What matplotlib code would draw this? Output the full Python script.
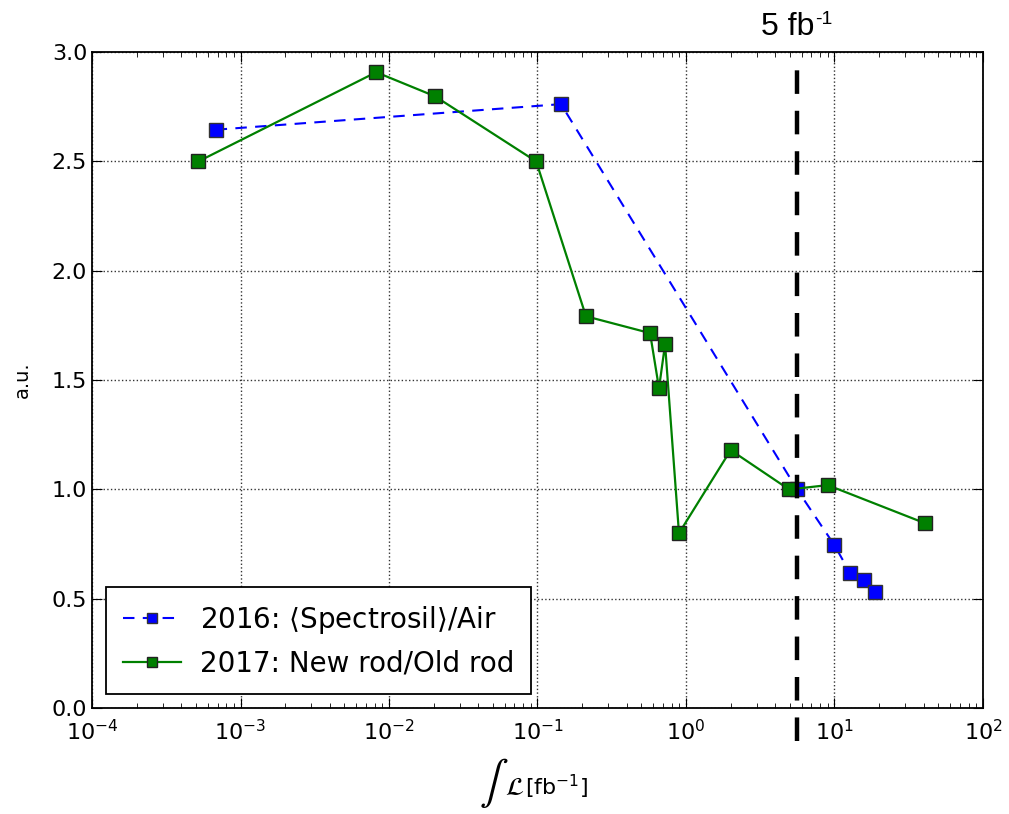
import matplotlib
matplotlib.use("Agg")
import matplotlib.pyplot as plt
from matplotlib.ticker import LogLocator, NullFormatter

# ---- data ----
lumi_2016 = [6.8e-4, 0.144, 5.6, 10.0, 12.7, 15.8, 18.8]
ratio_2016 = [2.645, 2.762, 1.00, 0.745, 0.620, 0.585, 0.530]

lumi_2017 = [5.2e-4, 8.2e-3, 0.0204, 0.098, 0.212, 0.573, 0.658, 0.723, 0.897, 2.0, 4.95, 9.0, 40.6]
ratio_2017 = [2.50, 2.908, 2.798, 2.50, 1.792, 1.715, 1.463, 1.664, 0.80, 1.18, 1.00, 1.02, 0.846]

mark_lumi = 5.6
yticks = [0.0, 0.5, 1.0, 1.5, 2.0, 2.5, 3.0]

plt.rcParams.update({
    "xtick.direction": "in", "ytick.direction": "in",
    "xtick.top": True, "ytick.right": True,
    "xtick.major.size": 7, "ytick.major.size": 7,
    "xtick.minor.size": 3.5, "ytick.minor.size": 3.5,
    "axes.linewidth": 1.3,
})

fig = plt.figure(figsize=(10.09, 8.14), dpi=100)
ax = fig.add_axes([0.0912, 0.130, 0.883, 0.806])

ax.plot(lumi_2016, ratio_2016, color="b", ls="--", lw=1.5, dashes=(5.5, 4),
        marker="s", ms=10, mec="#333333", mew=1.0, label=r"2016: $\langle$Spectrosil$\rangle$/Air")
ax.plot(lumi_2017, ratio_2017, color=(0, 0.5, 0), ls="-", lw=1.6,
        marker="s", ms=10, mec="#222222", mew=1.0, label="2017: New rod/Old rod")

ax.plot([mark_lumi, mark_lumi], [-0.15, 2.93], color="k", lw=3.2,
        dashes=(5.3, 3.8), clip_on=False, zorder=5)

ax.set_xscale("log")
ax.set_xlim(1e-4, 1e2)
ax.xaxis.set_minor_locator(LogLocator(base=10, subs=range(2, 10), numticks=20))
ax.xaxis.set_minor_formatter(NullFormatter())
ax.set_ylim(0, 3.0)
ax.set_yticks(yticks)
ax.set_yticklabels([f"{v:.1f}" for v in yticks])
ax.tick_params(labelsize=16)
ax.tick_params(axis="x", which="major", pad=8)
ax.grid(True, which="major", color="k", ls=":", lw=1.0, alpha=0.8)

ax.set_ylabel("a.u.", fontsize=14, labelpad=14)

# x label: big thin integral sign drawn apart from the rest
fig.text(0.4895, 0.0375, r"$\int$", fontsize=31, ha="center", va="center",
         math_fontfamily="stix")
fig.text(0.5005, 0.023, r"$\mathcal{L}$", fontsize=19, ha="left", va="baseline")
fig.text(0.5205, 0.023, r"[fb$^{-1}$]", fontsize=16, ha="left", va="baseline")

leg = ax.legend(loc="lower left", numpoints=1, fontsize=20, fancybox=False,
                framealpha=1, edgecolor="k", handlelength=2.1, handletextpad=0.7,
                borderaxespad=0.5, markerscale=0.75, labelspacing=0.5, borderpad=0.6)
leg.get_frame().set_linewidth(1.3)

# "5 fb-1" marker label, plain text with a raised hyphen
fig.text(0.7545, 0.957, "5 fb", fontsize=23, family="Liberation Sans", ha="left", va="baseline")
fig.text(0.8075, 0.970, "-1", fontsize=14, family="Liberation Sans", ha="left", va="baseline")

fig.savefig("out.png", dpi=100, facecolor="white")
